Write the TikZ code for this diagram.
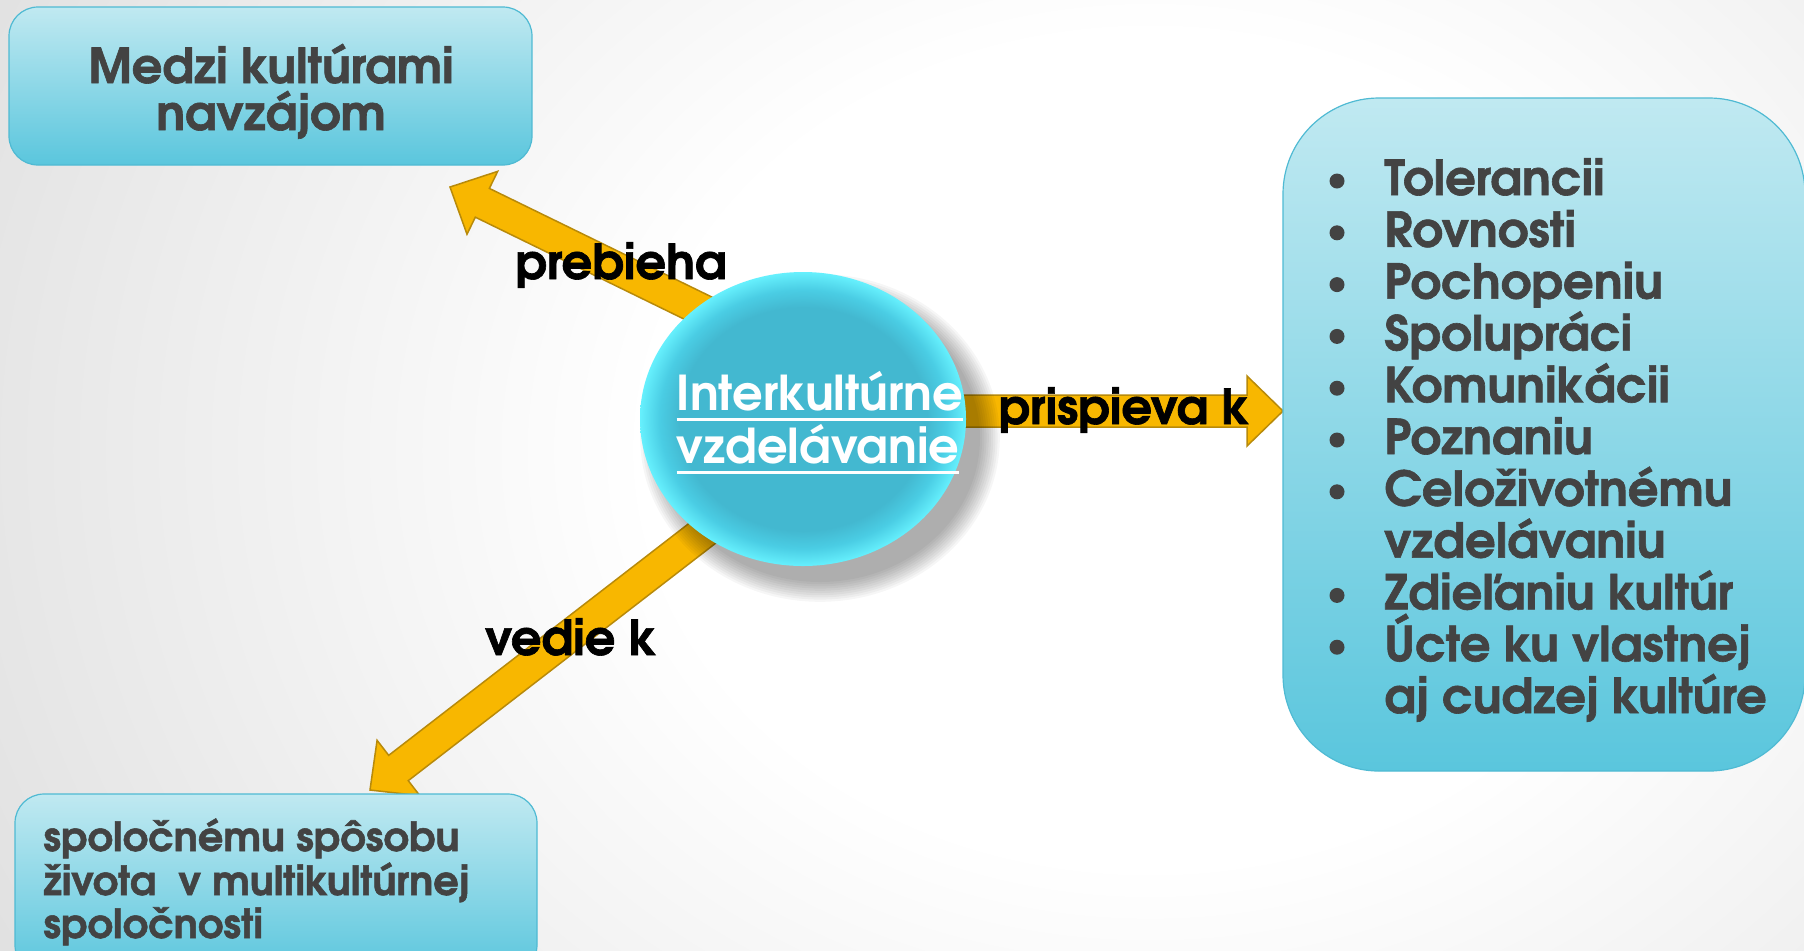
\documentclass[tikz,border=0pt]{standalone}
\usepackage{fontspec}
\setmainfont{TeX Gyre Adventor}[BoldFeatures={FakeBold=1.3}]
\newfontfamily\circfont{TeX Gyre Adventor}
\usetikzlibrary{shapes.geometric,calc}
\definecolor{boxtop}{HTML}{C0E9F1}
\definecolor{boxbot}{HTML}{5AC6DD}
\definecolor{boxline}{HTML}{4FBAD3}
\definecolor{txt}{HTML}{434343}
\definecolor{gold}{HTML}{F8B700}
\definecolor{goldline}{HTML}{B88A0A}
\definecolor{circ}{HTML}{43B8D0}
\definecolor{circB}{HTML}{4ACDE4}
\definecolor{rim}{HTML}{66F0FD}
\definecolor{bggray}{HTML}{DDDDDD}
\pgfdeclareradialshading{ballshade}{\pgfpoint{0bp}{0bp}}{color(0bp)=(circ); color(19bp)=(circ); color(22bp)=(circB); color(25bp)=(rim); color(50bp)=(rim)}
\pgfdeclareradialshading{bgshade}{\pgfpoint{0bp}{0bp}}{color(0bp)=(white); color(9bp)=(white); color(25bp)=(bggray); color(50bp)=(bggray)}
\newcommand\myuline[1]{\setbox0\hbox{#1}\rlap{\raisebox{-5.5pt}{\rule{\wd0}{1.5pt}}}\box0}
\newcommand\blockarrow[2]{%
  \path ($(#2)!18pt!(#1)$) coordinate (bah);
  \draw[barrow] ($(#1)!8pt!90:(#2)$) -- ($(bah)!8pt!90:(#2)$) -- ($(bah)!17.5pt!90:(#2)$) -- (#2)
    -- ($(bah)!17.5pt!-90:(#2)$) -- ($(bah)!8pt!-90:(#2)$) -- ($(#1)!8pt!-90:(#2)$) -- cycle;}
\tikzset{
  boxnode/.style={rectangle, rounded corners=14.5pt, top color=boxtop, bottom color=boxbot, draw=boxline, line width=0.6pt, inner sep=0pt},
  boxtext/.style={text=txt, font=\bfseries\fontsize{24pt}{24pt}\selectfont, inner sep=0pt},
  smalltext/.style={text=txt, font=\bfseries\fontsize{20pt}{21.8pt}\selectfont, inner sep=0pt},
  listtext/.style={text=txt, font=\bfseries\fontsize{24pt}{26pt}\selectfont, inner sep=0pt, anchor=base west},
  bulletnode/.style={circle, fill=txt, inner sep=0pt, minimum size=7.5pt},
  labeltext/.style={text=black, font=\bfseries\fontsize{24pt}{26pt}\selectfont, inner sep=0pt, anchor=base},
  circtext/.style={text=white, font=\circfont\bfseries\fontsize{24pt}{26pt}\selectfont, inner sep=0pt, anchor=base},
  barrow/.style={fill=gold, draw=goldline, line width=0.75pt, line join=miter},
}
\begin{document}
\begin{tikzpicture}[x=0.5pt, y=-0.5pt]
\useasboundingbox (0,0) rectangle (1804,950);
\begin{scope}
\clip (0,0) rectangle (1804,950);
% background
\shade[shading=bgshade] (-250,-700) rectangle (2550,1600);

% connectors
\coordinate (t1) at (450,187); \coordinate (s1) at (747,332);
\coordinate (t2) at (370,790); \coordinate (s2) at (726,515);
\coordinate (t3) at (1283,411); \coordinate (s3) at (900,411);
\blockarrow{s1}{t1}
\blockarrow{s2}{t2}
\blockarrow{s3}{t3}

% circle shadow
\foreach \k in {0,...,9}
  \fill[black, opacity=0.035] (820,438) ellipse ({160+2.2*\k} and {144+2.2*\k});
% central circle
\node[ellipse, shading=ballshade, minimum width=163pt, minimum height=147pt, inner sep=0pt] (c) at (803,419) {};
\node[circtext] (ct1) at (820,410) {\myuline{Interkultúrne}};
\node[circtext] (ct2) at (818,463) {\myuline{vzdelávanie}};

% top-left box
\node[boxnode, minimum width=261.5pt, minimum height=79pt] (tl) at (270.5,86) {};
\node[boxtext, anchor=base] (tl1) at (271,83) {Medzi kultúrami};
\node[boxtext, anchor=base] (tl2) at (271,130) {navzájom};

% bottom-left box
\node[boxnode, minimum width=261pt, minimum height=90pt] (bl) at (276,884) {};
\node[smalltext, anchor=base west] (bl1) at (43,851) {spoločnému spôsobu};
\node[smalltext, anchor=base west] (bl2) at (43,895) {života\ \ v multikultúrnej};
\node[smalltext, anchor=base west] (bl3) at (43,938) {spoločnosti};

% right box
\node[boxnode, rounded corners=48pt, minimum width=261pt, minimum height=336.5pt] (rt) at (1544,434.5) {};
\foreach \t/\b [count=\i from 0] in {Tolerancii/1, Rovnosti/1, Pochopeniu/1, Spolupráci/1, Komunikácii/1, Poznaniu/1, Celoživotnému/1, vzdelávaniu/0, Zdieľaniu kultúr/1, Úcte ku vlastnej/1, aj cudzej kultúre/0}{
  \node[listtext] (li\i) at (1384,{195+51.8*\i}) {\t};
  \ifnum\b=1 \node[bulletnode] (bu\i) at (1337,{181+51.8*\i}) {}; \fi
}

% connector labels
\node[labeltext] (lab1) at (621,279) {prebieha};
\node[labeltext] (lab2) at (571,655) {vedie k};
\node[labeltext] (lab3) at (1124,424) {prispieva k};
\end{scope}
\end{tikzpicture}
\end{document}
